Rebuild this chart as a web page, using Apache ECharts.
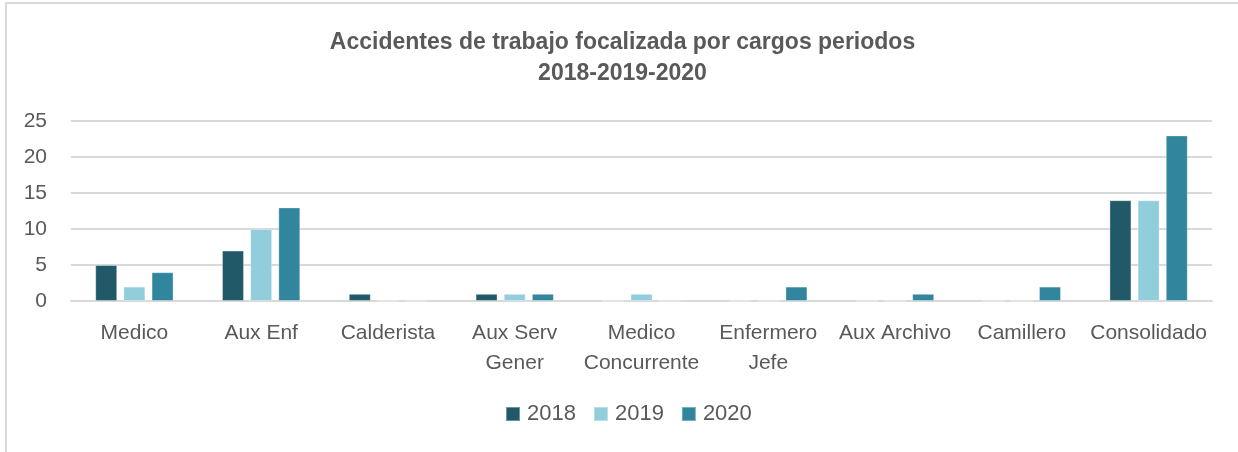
<!DOCTYPE html>
<html>
<head>
<meta charset="utf-8">
<script src="https://cdn.jsdelivr.net/npm/echarts@6/dist/echarts.min.js"></script>
<style>
  html, body { margin: 0; padding: 0; background: #fff; }
  #wrap { position: absolute; left: 5px; top: 2px; width: 1233px; height: 450px;
          border-left: 2px solid #d9d9d9; border-top: 2px solid #d9d9d9; }
  #chart { width: 1231px; height: 448px; }
</style>
</head>
<body>
<div id="wrap"><div id="chart"></div></div>
<script>
// datos del grafico
var categorias = ["Medico", "Aux Enf", "Calderista", "Aux Serv\nGener", "Medico\nConcurrente",
  "Enfermero\nJefe", "Aux Archivo", "Camillero", "Consolidado"];
var anios = ["2018", "2019", "2020"];
var datos2018 = [5, 7, 1, 1, 0, 0, 0, 0, 14];
var datos2019 = [2, 10, 0, 1, 1, 0, 0, 0, 14];
var datos2020 = [4, 13, 0, 1, 0, 2, 1, 2, 23];
var ticksY = [0, 5, 10, 15, 20, 25];

var colores = ["#215968", "#92CDDC", "#31859C"];

var myChart = echarts.init(document.getElementById("chart"));

function serie(nombre, valores, i) {
  return {
    name: nombre,
    type: "bar",
    data: valores,
    barWidth: 22,
    barGap: "28%",
    itemStyle: { color: colores[i], borderColor: "rgba(255,255,255,0.35)", borderWidth: 1 }
  };
}

var options = {
  animation: false,
  title: {
    text: "Accidentes de trabajo focalizada por cargos periodos\n2018-2019-2020",
    left: "center",
    top: 18,
    textStyle: {
      fontFamily: "Liberation Sans",
      fontWeight: "bold",
      fontSize: 23,
      lineHeight: 31,
      color: "#595959"
    }
  },
  legend: {
    data: anios,
    bottom: 22,
    left: 493,
    itemWidth: 14,
    itemHeight: 14,
    itemGap: 17,
    icon: "rect",
    textStyle: { fontFamily: "Liberation Sans", fontSize: 22, color: "#595959", padding: [0, 0, 0, 2] }
  },
  grid: { left: 64, right: 26, top: 117, bottom: 151, containLabel: false },
  xAxis: {
    type: "category",
    data: categorias,
    axisTick: { show: false },
    axisLine: { lineStyle: { color: "#d9d9d9", width: 2 } },
    axisLabel: {
      interval: 0,
      margin: 17,
      fontFamily: "Liberation Sans",
      fontSize: 21,
      lineHeight: 30,
      color: "#595959"
    }
  },
  yAxis: {
    type: "value",
    min: 0,
    max: 25,
    interval: 5,
    axisLine: { show: false },
    axisTick: { show: false },
    splitLine: { lineStyle: { color: "#d9d9d9", width: 2 } },
    axisLabel: {
      margin: 24,
      fontFamily: "Liberation Sans",
      fontSize: 21,
      color: "#595959",
      formatter: function (v) { return ticksY.indexOf(v) >= 0 ? String(v) : ""; }
    }
  },
  series: [
    serie(anios[0], datos2018, 0),
    serie(anios[1], datos2019, 1),
    serie(anios[2], datos2020, 2)
  ]
};
myChart.setOption(options);
</script>
</body>
</html>
